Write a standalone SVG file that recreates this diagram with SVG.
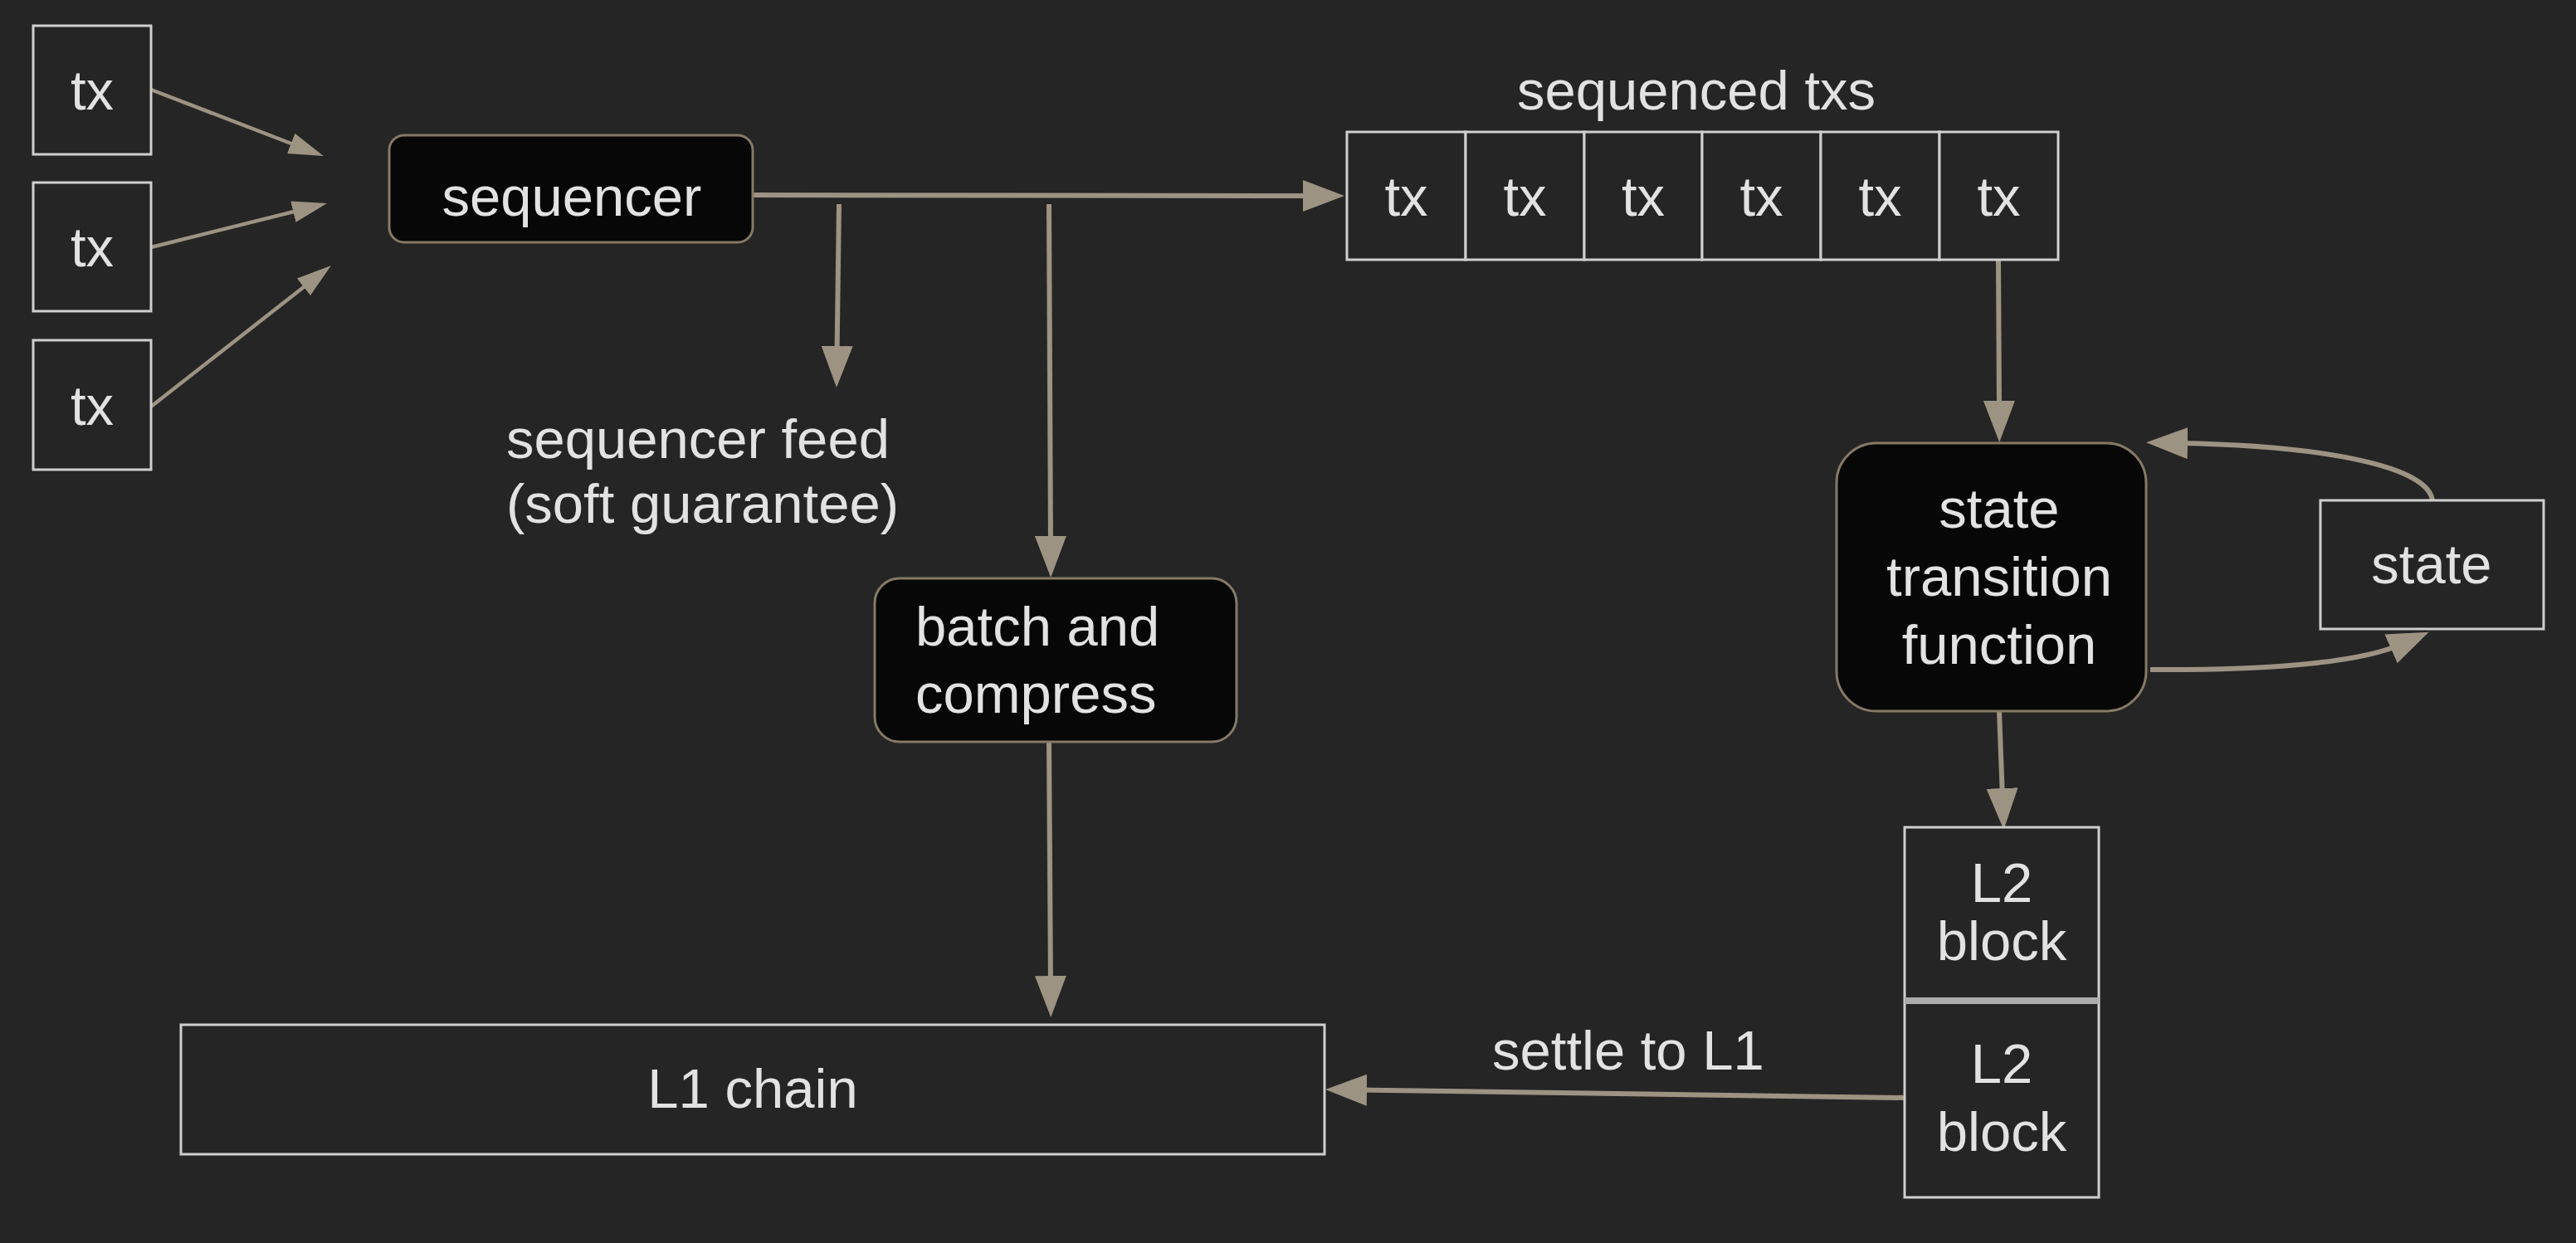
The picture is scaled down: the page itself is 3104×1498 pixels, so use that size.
<svg xmlns="http://www.w3.org/2000/svg" width="3104" height="1498" viewBox="0 0 3104 1498">
<style>
text{font-family:"Liberation Sans",Arial,sans-serif;fill:#e2e2e2;font-size:67px}
.c{text-anchor:middle}
.box{fill:#252525;stroke:#cfcfcf;stroke-width:3}
.dark{fill:#070707;stroke:#857a66;stroke-width:3}
.ln{fill:none;stroke:#9c9382;stroke-width:6}
.thin{fill:none;stroke:#9c9382;stroke-width:4.5}
</style>
<defs>
<marker id="ah" markerUnits="userSpaceOnUse" markerWidth="50" markerHeight="38" refX="12" refY="19" orient="auto">
<path d="M0,0 L50,19 L0,38 z" fill="#9c9382"/>
</marker>
<marker id="ahs" markerUnits="userSpaceOnUse" markerWidth="42" markerHeight="26" refX="10" refY="13" orient="auto">
<path d="M0,0 L42,13 L0,26 z" fill="#9c9382"/>
</marker>
</defs>
<rect width="3104" height="1498" fill="#252525"/>

<g id="connectors">
<line class="thin" x1="182" y1="108" x2="360" y2="176.5" marker-end="url(#ahs)"/>
<line class="thin" x1="182" y1="298" x2="363" y2="252.8" marker-end="url(#ahs)"/>
<line class="thin" x1="182" y1="490" x2="373.8" y2="339.7" marker-end="url(#ahs)"/>
<line class="ln" x1="907" y1="235" x2="1582" y2="236" stroke-width="7" marker-end="url(#ah)"/>
<line class="ln" x1="1011" y1="246" x2="1008.5" y2="429" marker-end="url(#ah)"/>
<line class="ln" x1="1264" y1="246" x2="1266" y2="658" marker-end="url(#ah)"/>
<line class="ln" x1="1264" y1="894" x2="1266" y2="1188" marker-end="url(#ah)"/>
<line class="ln" x1="2408" y1="313" x2="2409" y2="495" marker-end="url(#ah)"/>
<line class="ln" x1="2409" y1="857" x2="2413" y2="962" marker-end="url(#ah)"/>
<line class="ln" x1="2295" y1="1323" x2="1635" y2="1313.5" marker-end="url(#ah)"/>
<path class="ln" d="M2931,604 C2928,562 2800,537 2624,534" marker-end="url(#ah)"/>
<path class="ln" d="M2591,807 C2720,808 2840,800 2892,777" marker-end="url(#ah)"/>
</g>

<g id="tx-in-1"><rect class="box" x="40" y="31" width="142" height="155"/><text class="c" x="111" y="132">tx</text></g>
<g id="tx-in-2"><rect class="box" x="40" y="220" width="142" height="155"/><text class="c" x="111" y="321">tx</text></g>
<g id="tx-in-3"><rect class="box" x="40" y="410" width="142" height="156"/><text class="c" x="111" y="512">tx</text></g>

<g id="sequencer"><rect class="dark" x="469" y="163" width="438" height="129" rx="18"/><text class="c" x="689" y="260">sequencer</text></g>

<g id="sequenced-txs">
<text class="c" x="2044" y="132">sequenced txs</text>
<rect class="box" x="1623" y="159" width="143" height="154"/><text class="c" x="1694.5" y="260">tx</text>
<rect class="box" x="1766" y="159" width="143" height="154"/><text class="c" x="1837.5" y="260">tx</text>
<rect class="box" x="1909" y="159" width="142" height="154"/><text class="c" x="1980" y="260">tx</text>
<rect class="box" x="2051" y="159" width="143" height="154"/><text class="c" x="2122.5" y="260">tx</text>
<rect class="box" x="2194" y="159" width="143" height="154"/><text class="c" x="2265.5" y="260">tx</text>
<rect class="box" x="2337" y="159" width="143" height="154"/><text class="c" x="2408.5" y="260">tx</text>
</g>

<g id="sequencer-feed"><text x="610" y="552">sequencer feed</text><text x="610" y="630">(soft guarantee)</text></g>

<g id="batch-compress"><rect class="dark" x="1054" y="697" width="436" height="197" rx="30"/><text x="1103" y="778">batch and</text><text x="1103" y="859">compress</text></g>

<g id="stf"><rect class="dark" x="2213" y="534" width="373" height="323" rx="48"/><text class="c" x="2409" y="636">state</text><text class="c" x="2409" y="718">transition</text><text class="c" x="2409" y="800">function</text></g>

<g id="state"><rect class="box" x="2796" y="603" width="269" height="155"/><text class="c" x="2930" y="703">state</text></g>

<g id="l2-blocks">
<rect class="box" x="2295" y="997" width="234" height="446"/>
<line x1="2295" y1="1206" x2="2529" y2="1206" stroke="#ababab" stroke-width="8"/>
<text class="c" x="2412" y="1087" font-size="57">L2</text><text class="c" x="2412" y="1157" font-size="57">block</text>
<text class="c" x="2412" y="1305">L2</text><text class="c" x="2412" y="1387">block</text>
</g>

<g id="l1-chain"><rect class="box" x="218" y="1235" width="1378" height="156" stroke="#dcdcdc" stroke-width="4"/><text class="c" x="907" y="1335">L1 chain</text></g>

<g id="settle-label"><text x="1798" y="1289">settle to L1</text></g>
</svg>
